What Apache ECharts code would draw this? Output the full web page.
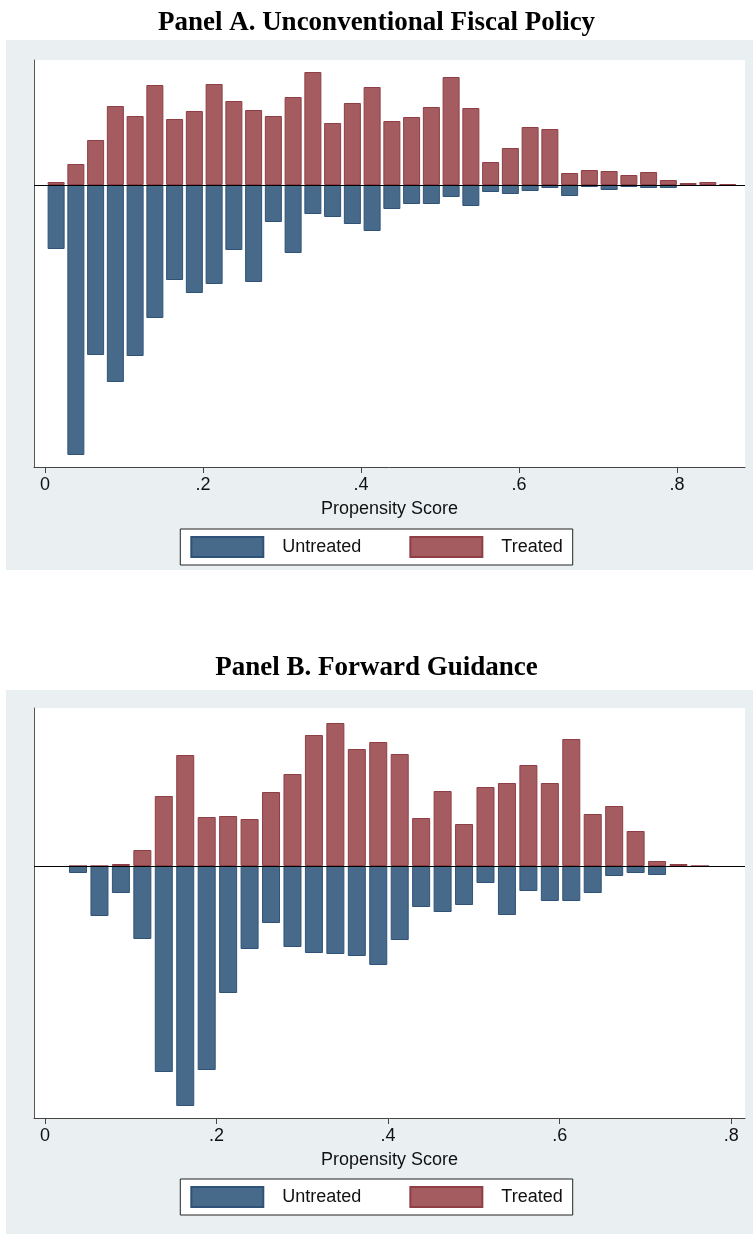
<!DOCTYPE html>
<html>
<head>
<meta charset="utf-8">
<script src="https://cdn.jsdelivr.net/npm/echarts@6/dist/echarts.min.js"></script>
<style>
  html, body { margin: 0; padding: 0; background: #fff; }
  #chart { width: 753px; height: 1234px; }
</style>
</head>
<body>
<div id="chart"></div>
<script>
// Panel A: bin centers and heights (arbitrary density units)
const binsA = [0.014,0.039,0.064,0.089,0.114,0.139,0.164,0.189,0.214,0.239,0.264,0.289,0.314,0.339,0.364,0.389,0.414,0.439,0.464,0.489,0.514,0.539,0.564,0.589,0.614,0.639,0.664,0.689,0.714,0.739,0.764,0.789,0.814,0.839,0.864];
const treatedA = [3,21,45,79,69,100,66,74,101,84,75,69,88,113,62,82,98,64,68,78,108,77,23,37,58,56,12,15,14,10,13,5,2,3,1];
const untreatedA = [64,270,170,197,171,133,95,108,99,65,97,37,68,29,32,39,46,24,19,19,12,21,7,9,6,3,11,2,5,2,3,3,1,1,1];

// Panel B
const binsB = [0.0385,0.0635,0.0885,0.1135,0.1385,0.1635,0.1885,0.2135,0.2385,0.2635,0.2885,0.3135,0.3385,0.3635,0.3885,0.4135,0.4385,0.4635,0.4885,0.5135,0.5385,0.5635,0.5885,0.6135,0.6385,0.6635,0.6885,0.7135,0.7385,0.7635];
const treatedB = [0,0,2,16,70,111,49,50,47,74,92,131,143,117,124,112,48,75,42,79,83,101,83,127,52,60,35,5,2,0];
const untreatedB = [7,50,27,73,206,240,204,127,83,57,81,87,88,90,99,74,41,46,39,17,49,25,35,35,27,10,7,9,1,1];

const tickValues = [0, 0.2, 0.4, 0.6, 0.8];

const blue = '#476a8a', red = '#a45c60';
const font = "'Liberation Sans Narrow', 'Liberation Sans', Arial, sans-serif";
const titleFont = "'Liberation Serif', 'DejaVu Serif', serif";

const chart = echarts.init(document.getElementById('chart'));

function xAxisFor(grid, min, max) {
    return {
        type: 'value', gridIndex: grid, min: min, max: max,
        name: 'Propensity Score', nameLocation: 'middle', nameGap: 33,
        nameTextStyle: { fontFamily: font, fontSize: 18, color: '#111' },
        splitLine: { show: false },
        axisLine: { onZero: false, lineStyle: { color: '#444' } },
        axisTick: { customValues: tickValues, length: 6, lineStyle: { color: '#444' } },
        axisLabel: {
            customValues: tickValues, fontFamily: font, fontSize: 18, color: '#111', margin: 9,
            formatter: v => v === 0 ? '0' : String(v).replace(/^0/, '')
        }
    };
}
function yAxisFor(grid, min, max) {
    return {
        type: 'value', gridIndex: grid, min: min, max: max,
        splitLine: { show: false }, axisTick: { show: false }, axisLabel: { show: false },
        axisLine: { show: true, onZero: false, lineStyle: { color: '#555' } }
    };
}
function barSeries(name, color, xi, bins, vals, sign, width) {
    return {
        name: name, type: 'bar', xAxisIndex: xi, yAxisIndex: xi,
        data: bins.map((b, i) => [b, sign * vals[i]]),
        barWidth: width, barGap: '-100%',
        itemStyle: { color: color, borderColor: sign > 0 ? '#8e3e44' : '#2f5378', borderWidth: 1 },
        markLine: sign > 0 ? {
            silent: true, symbol: 'none', label: { show: false },
            lineStyle: { color: '#000', type: 'solid', width: 1.2 },
            data: [{ yAxis: 0 }]
        } : undefined,
        z: sign > 0 ? 3 : 2
    };
}
function legendFor(top) {
    return {
        top: top, left: 'center', data: ['Untreated', 'Treated'],
        itemWidth: 72, itemHeight: 20, itemGap: 48, padding: [7, 10, 7, 10],
        borderColor: '#222', borderWidth: 1, backgroundColor: '#fff',
        textStyle: { fontFamily: font, fontSize: 18, color: '#111', padding: [0, 0, 0, 14] },
        icon: 'rect'
    };
}

chart.setOption({
    animation: false,
    graphic: [
        { type: 'rect', shape: { x: 6, y: 40, width: 747, height: 530 }, style: { fill: '#eaf0f2' }, z: -10 },
        { type: 'rect', shape: { x: 6, y: 690, width: 747, height: 544 }, style: { fill: '#eaf0f2' }, z: -10 }
    ],
    title: [
        { text: 'Panel A. Unconventional Fiscal Policy', left: 'center', top: 5,
          textStyle: { fontFamily: titleFont, fontSize: 27, fontWeight: 'bold', color: '#000' } },
        { text: 'Panel B. Forward Guidance', left: 'center', top: 650,
          textStyle: { fontFamily: titleFont, fontSize: 27, fontWeight: 'bold', color: '#000' } }
    ],
    legend: [legendFor(529), legendFor(1179)],
    grid: [
        { left: 34, top: 60, width: 711, height: 407, show: true, backgroundColor: '#fff', borderWidth: 0 },
        { left: 34, top: 708, width: 711, height: 410, show: true, backgroundColor: '#fff', borderWidth: 0 }
    ],
    xAxis: [xAxisFor(0, -0.014, 0.886), xAxisFor(1, -0.0128, 0.816)],
    yAxis: [yAxisFor(0, -282, 125), yAxisFor(1, -252, 158)],
    series: [
        barSeries('Untreated', blue, 0, binsA, untreatedA, -1, 17),
        barSeries('Treated', red, 0, binsA, treatedA, 1, 17),
        barSeries('Untreated', blue, 1, binsB, untreatedB, -1, 18),
        barSeries('Treated', red, 1, binsB, treatedB, 1, 18)
    ]
});
</script>
</body>
</html>
